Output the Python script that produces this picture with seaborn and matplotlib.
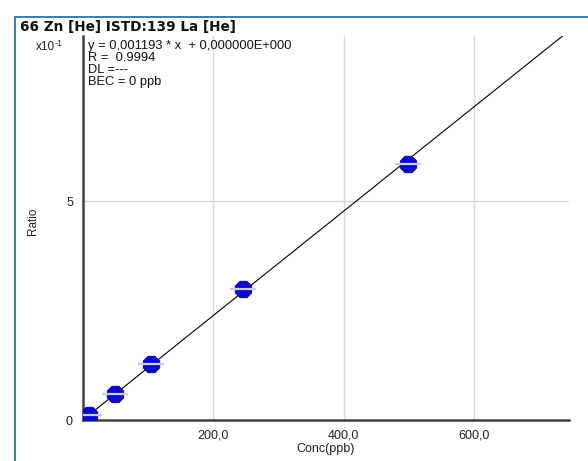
import matplotlib
matplotlib.use("Agg")
import matplotlib.pyplot as plt
import seaborn as sns
import pandas as pd
import numpy as np
from matplotlib.lines import Line2D

# ---- data ----
conc = [10, 50, 105, 245, 498]            # Conc(ppb)
ratio = [0.12, 0.60, 1.28, 3.00, 5.84]     # Ratio, in units of x10^-1
slope = 0.001193                           # fit slope (ratio per ppb)
line_x = [0, 745]
x_ticks = [200, 400, 600]
x_tick_labels = ["200,0", "400,0", "600,0"]
y_ticks = [0, 5]
y_tick_labels = ["0", "5"]
title = "66 Zn [He] ISTD:139 La [He]"
info_lines = ["y = 0,001193 * x  + 0,000000E+000", "R =  0.9994", "DL =---", "BEC = 0 ppb"]

sns.set_style("white")
plt.rcParams['font.family'] = ['Liberation Sans', 'DejaVu Sans']

W, H = 588, 461
fig = plt.figure(figsize=(W / 100, H / 100), dpi=100)
fig.patch.set_facecolor("white")

def fx(x):
    return x / W

def fy(y):
    return 1 - y / H

ax_l, ax_r, ax_t, ax_b = 82.7, 569, 36, 420
ax = fig.add_axes([fx(ax_l), fy(ax_b), (ax_r - ax_l) / W, (ax_b - ax_t) / H])

pts = pd.DataFrame({"conc": conc, "ratio": ratio})
fit = pd.DataFrame({"conc": line_x, "ratio": [slope * v * 10 for v in line_x]})

# grid
for xv in x_ticks:
    ax.axvline(xv, color="#d9d9d9", lw=1, zorder=0)
ax.axhline(5, color="#d9d9d9", lw=1, zorder=0)

sns.lineplot(data=fit, x="conc", y="ratio", ax=ax, color="black", lw=0.8, zorder=2)
sns.scatterplot(data=pts, x="conc", y="ratio", ax=ax, marker="8", s=165,
                color="#0a0ad2", edgecolor="#00008a", linewidth=0.6, zorder=3)
sns.scatterplot(data=pts, x="conc", y="ratio", ax=ax, marker="_", s=330,
                color="#c9cbe6", linewidth=1.6, zorder=4)

ax.set_xlim(0, 745)
ax.set_ylim(0, 8.77)
ax.set_xticks(x_ticks)
ax.set_xticklabels(x_tick_labels)
ax.set_yticks(y_ticks)
ax.set_yticklabels(y_tick_labels)
ax.tick_params(axis="both", direction="out", length=5, width=1.2, color="#404040",
               labelsize=9, labelcolor="#222222", pad=2)
ax.set_xlabel("Conc(ppb)", fontsize=9, labelpad=1, color="#222222")
ax.set_ylabel("")
for s in ["top", "right"]:
    ax.spines[s].set_visible(False)
for s in ["left", "bottom"]:
    ax.spines[s].set_color("#404040")
    ax.spines[s].set_linewidth(1.8)

fig.text(fx(33), fy(221), "Ratio", rotation=90, fontsize=8.5, ha="center", va="center", color="#222222")

# title and info
fig.text(fx(20), fy(27), title, fontsize=9.8, fontweight="bold", ha="left", va="center",
         color="#111111", family=["DejaVu Sans"])
fig.text(fx(36), fy(47), "x10", fontsize=8.5, ha="left", va="center", color="#222222")
fig.text(fx(55), fy(44), "-1", fontsize=6.5, ha="left", va="center", color="#222222")
for i, t in enumerate(info_lines):
    fig.text(fx(88), fy(46.5 + i * 11.8), t, fontsize=9.3, ha="left", va="center", color="#111111")

# window frame
fig.add_artist(Line2D([fx(15), fx(588)], [fy(17), fy(17)], color="#3a7ca8", lw=1.4))
fig.add_artist(Line2D([fx(15), fx(15)], [fy(17), fy(461)], color="#3a7ca8", lw=1.4))

fig.savefig("out.png", dpi=100, facecolor="white")
